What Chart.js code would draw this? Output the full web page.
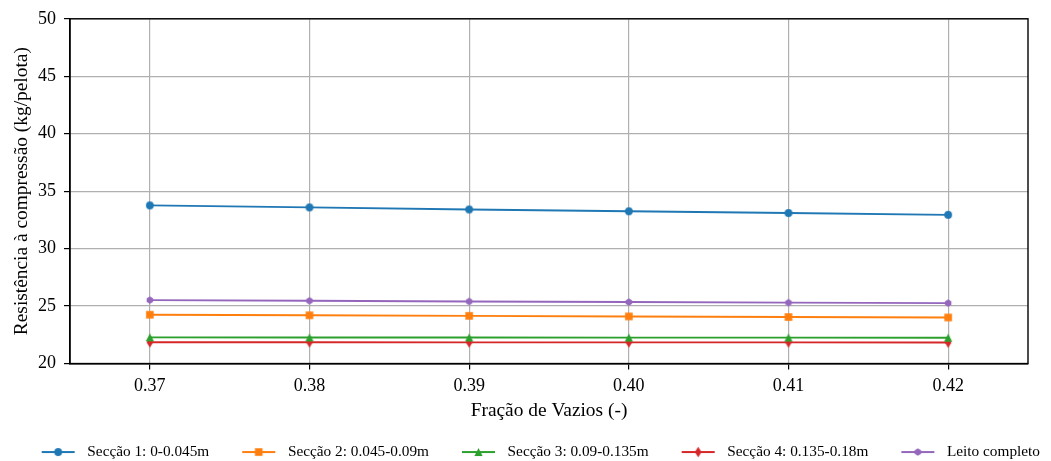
<!DOCTYPE html>
<html>
<head>
<meta charset="utf-8">
<script src="https://cdn.jsdelivr.net/npm/chart.js@4.4.1/dist/chart.umd.min.js"></script>
<style>
  html, body { margin: 0; padding: 0; background: #ffffff; }
  #wrap { width: 1051px; height: 461px; }
</style>
</head>
<body>
<div id="wrap"><canvas id="c" width="1051" height="461"></canvas></div>
<script>
// ---- data ----
const categories = ['0.37', '0.38', '0.39', '0.40', '0.41', '0.42'];
const seccao1 = [33.76, 33.59, 33.41, 33.25, 33.10, 32.94];
const seccao2 = [24.25, 24.20, 24.15, 24.10, 24.05, 24.01];
const seccao3 = [22.28, 22.27, 22.27, 22.26, 22.26, 22.25];
const seccao4 = [21.85, 21.85, 21.84, 21.84, 21.84, 21.83];
const leito   = [25.52, 25.46, 25.40, 25.35, 25.30, 25.26];
const seriesNames = ['Secção 1: 0-0.045m', 'Secção 2: 0.045-0.09m', 'Secção 3: 0.09-0.135m', 'Secção 4: 0.135-0.18m', 'Leito completo'];
const yMin = 20, yMax = 50, yStep = 5;
const xTitle = 'Fração de Vazios (-)';
const yTitle = 'Resistência à compressão (kg/pelota)';

const colors = ['#1f77b4', '#ff7f0e', '#2ca02c', '#d62728', '#9467bd'];
const shapes = ['circle', 'square', 'triangle', 'thindiamond', 'hexagon'];

function drawShape(ctx, shape, cx, cy) {
  ctx.beginPath();
  if (shape === 'circle') {
    ctx.arc(cx, cy, 3.9, 0, Math.PI * 2);
  } else if (shape === 'square') {
    ctx.rect(cx - 3.8, cy - 3.8, 7.6, 7.6);
  } else if (shape === 'triangle') {
    ctx.moveTo(cx, cy - 4.1);
    ctx.lineTo(cx + 4.1, cy + 4.1);
    ctx.lineTo(cx - 4.1, cy + 4.1);
    ctx.closePath();
  } else if (shape === 'thindiamond') {
    ctx.moveTo(cx, cy - 5.2);
    ctx.lineTo(cx + 3.3, cy);
    ctx.lineTo(cx, cy + 5.2);
    ctx.lineTo(cx - 3.3, cy);
    ctx.closePath();
  } else if (shape === 'hexagon') {
    for (let i = 0; i < 6; i++) {
      const a = -Math.PI / 2 + i * Math.PI / 3;
      const px = cx + 3.7 * Math.cos(a), py = cy + 3.7 * Math.sin(a);
      if (i === 0) ctx.moveTo(px, py); else ctx.lineTo(px, py);
    }
    ctx.closePath();
  }
  ctx.fill();
}

function markerCanvas(shape, color) {
  const c = document.createElement('canvas');
  c.width = 14; c.height = 14;
  const ctx = c.getContext('2d');
  ctx.fillStyle = color;
  drawShape(ctx, shape, 7, 7);
  return c;
}

// legend swatch: blank gap on the left, then line with marker, then small gap
const LEG_GAP_LEFT = 22, LEG_LINE = 33, LEG_GAP_RIGHT = 4.5;
const LEG_W = LEG_GAP_LEFT + LEG_LINE + LEG_GAP_RIGHT;
function legendCanvas(shape, color) {
  const c = document.createElement('canvas');
  c.width = Math.round(LEG_W); c.height = 14;
  const ctx = c.getContext('2d');
  ctx.strokeStyle = color;
  ctx.lineWidth = 1.9;
  ctx.beginPath();
  ctx.moveTo(LEG_GAP_LEFT, 7); ctx.lineTo(LEG_GAP_LEFT + LEG_LINE, 7);
  ctx.stroke();
  ctx.fillStyle = color;
  drawShape(ctx, shape, LEG_GAP_LEFT + LEG_LINE / 2, 7);
  return c;
}

const seriesValues = [seccao1, seccao2, seccao3, seccao4, leito];
const pointImgs = shapes.map((s, i) => markerCanvas(s, colors[i]));
const legendImgs = shapes.map((s, i) => legendCanvas(s, colors[i]));

const datasets = seriesValues.map((vals, i) => ({
  label: seriesNames[i],
  data: vals,
  borderColor: colors[i],
  backgroundColor: colors[i],
  borderWidth: 1.9,
  pointStyle: pointImgs[i],
  pointRadius: 4,
  pointHoverRadius: 4,
  tension: 0,
  fill: false
}));

const frame = {
  id: 'frame',
  afterDatasetsDraw(chart) {
    const a = chart.chartArea, ctx = chart.ctx;
    ctx.save();
    ctx.strokeStyle = '#000';
    ctx.lineWidth = 1.4;
    ctx.strokeRect(a.left, a.top, a.right - a.left, a.bottom - a.top);
    ctx.restore();
  }
};

const serif = "'Liberation Serif', 'Times New Roman', serif";

new Chart(document.getElementById('c'), {
  type: 'line',
  data: { labels: categories, datasets },
  plugins: [frame],
  options: {
    responsive: false,
    animation: false,
    devicePixelRatio: 1,
    layout: { padding: { left: 0, right: 0, top: 18, bottom: 0 } },
    plugins: {
      tooltip: { enabled: false },
      legend: {
        position: 'bottom',
        align: 'end',
        maxHeight: 27.6,
        labels: {
          usePointStyle: true,
          pointStyleWidth: Math.round(LEG_W),
          padding: 11,
          color: '#000',
          font: { family: serif, size: 15.3 },
          generateLabels(chart) {
            const items = Chart.defaults.plugins.legend.labels.generateLabels(chart);
            items.forEach((it, i) => { it.pointStyle = legendImgs[i]; });
            return items;
          }
        }
      }
    },
    scales: {
      x: {
        type: 'category',
        offset: true,
        grid: { display: true, offset: false, color: '#b0b0b0', lineWidth: 1.2, tickLength: 6, tickColor: '#000', tickWidth: 1.2 },
        border: { display: true, color: '#000', width: 1.4 },
        ticks: { color: '#000', font: { family: serif, size: 18 }, padding: 6, maxRotation: 0 },
        title: { display: true, text: xTitle, color: '#000', font: { family: serif, size: 19.4 }, padding: { top: 0, bottom: 10.7 } },
        afterFit(scale) { scale.height = 69.85; }
      },
      y: {
        min: yMin, max: yMax,
        grid: { color: '#b0b0b0', lineWidth: 1.2, tickLength: 6, tickColor: '#000', tickWidth: 1.2 },
        border: { display: true, color: '#000', width: 1.4 },
        ticks: { stepSize: yStep, color: '#000', font: { family: serif, size: 18 }, padding: 8 },
        title: { display: true, text: yTitle, color: '#000', font: { family: serif, size: 19.4 }, padding: { top: 10.5, bottom: 0 } },
        afterFit(scale) { scale.width = 70; }
      },
      spacer: {
        type: 'linear',
        position: 'right',
        display: true,
        grid: { display: false, drawTicks: false },
        border: { display: false },
        ticks: { display: false },
        afterFit(scale) { scale.width = 23; }
      }
    }
  }
});
</script>
</body>
</html>
